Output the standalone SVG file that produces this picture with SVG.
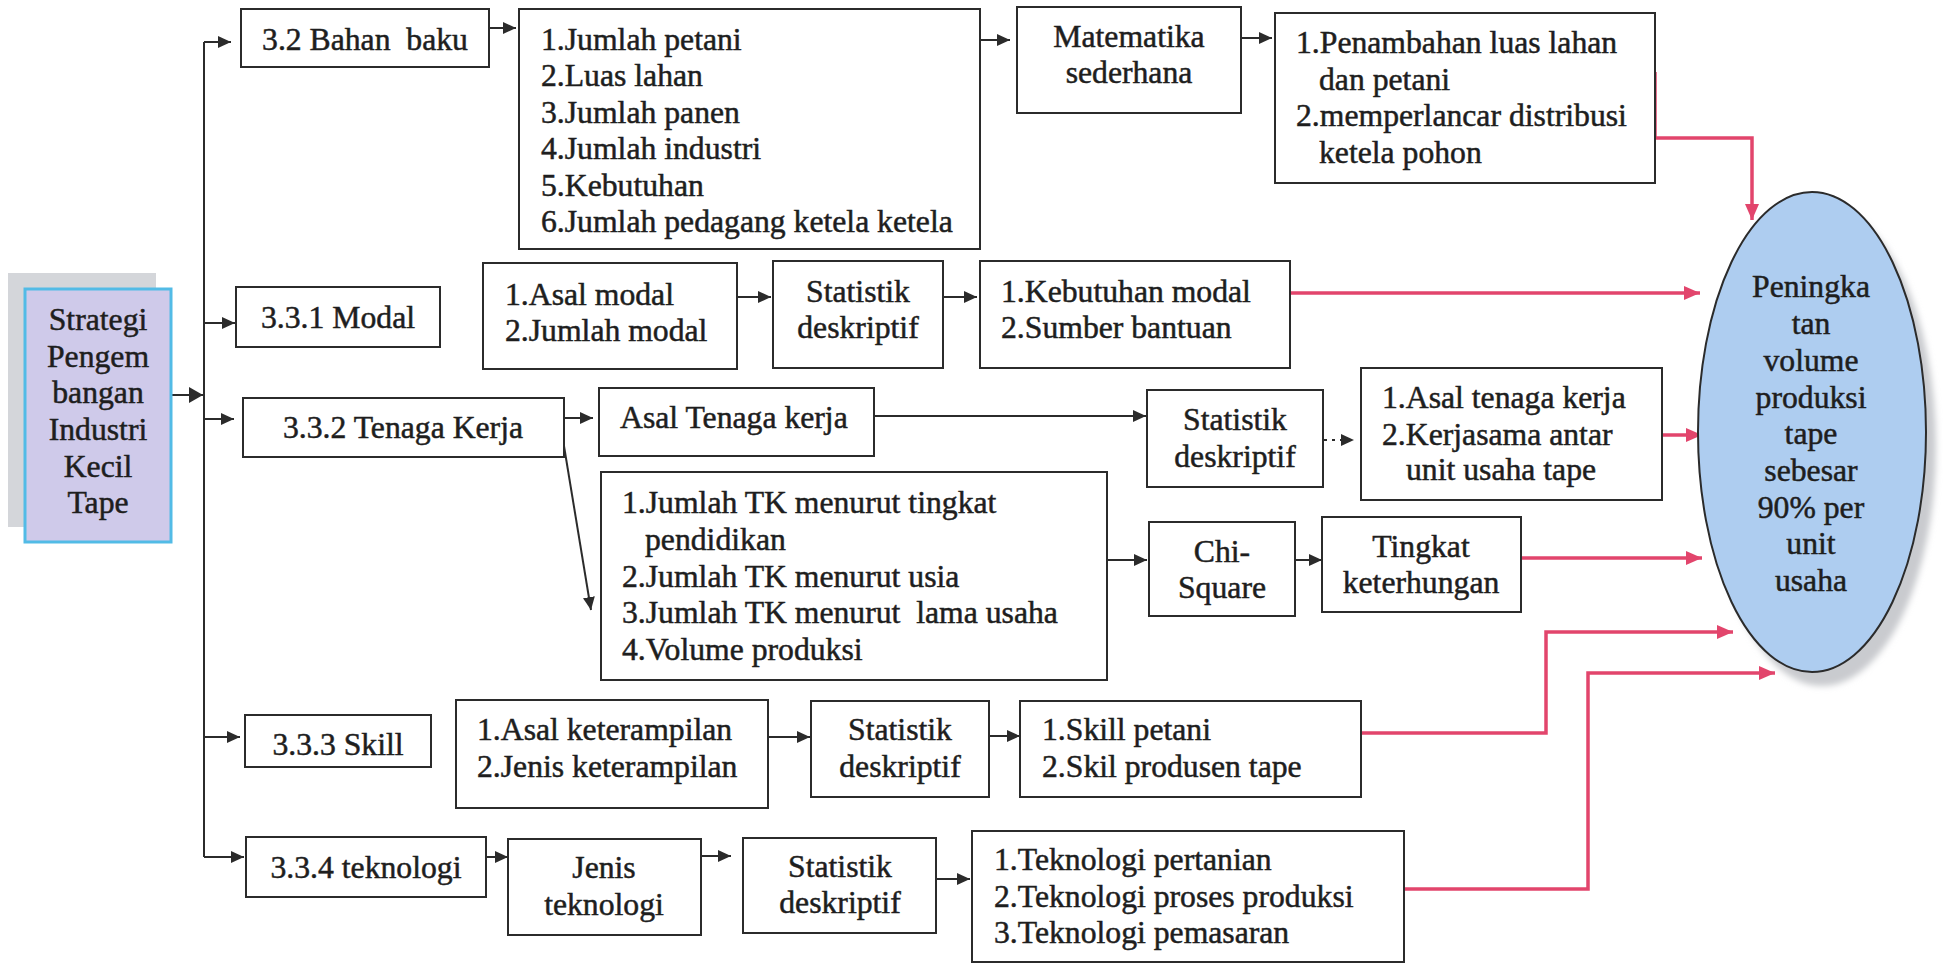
<svg xmlns="http://www.w3.org/2000/svg" width="1943" height="964" viewBox="0 0 1943 964">
  <style>
    .box { fill: #ffffff; stroke: #2b2b2b; stroke-width: 2; }
    text { font-family: 'Liberation Serif', 'DejaVu Serif', serif; font-size: 31.7px; fill: #1e1e1e; stroke: #1e1e1e; stroke-width: 0.5; white-space: pre; }
    .c { text-anchor: middle; }
    .ln { fill: none; stroke: #2b2b2b; stroke-width: 2; }
    .red { fill: none; stroke: #e2456c; stroke-width: 3.5; }
  </style>
  <defs>
    <marker id="ah" markerUnits="userSpaceOnUse" markerWidth="14" markerHeight="12" refX="13" refY="6" orient="auto">
      <path d="M0,0 L13,6 L0,12 z" fill="#2b2b2b"/>
    </marker>
    <marker id="ahb" markerUnits="userSpaceOnUse" markerWidth="15" markerHeight="16" refX="14" refY="8" orient="auto">
      <path d="M0,0 L14,8 L0,16 z" fill="#2b2b2b"/>
    </marker>
    <marker id="rh" markerUnits="userSpaceOnUse" markerWidth="16" markerHeight="14" refX="16" refY="7" orient="auto">
      <path d="M0,0 L16,7 L0,14 z" fill="#e2456c"/>
    </marker>
    <filter id="soft" x="-10%" y="-10%" width="120%" height="120%">
      <feGaussianBlur stdDeviation="3"/>
    </filter>
  </defs>

  <!-- connectors -->
  <g id="connectors">
    <path class="ln" d="M204,42 V857"/>
    <path class="ln" d="M171,395 H203" stroke-width="5" marker-end="url(#ahb)"/>
    <path class="ln" d="M204,42 H231" marker-end="url(#ah)"/>
    <path class="ln" d="M204,323 H235" marker-end="url(#ah)"/>
    <path class="ln" d="M204,419 H234" marker-end="url(#ah)"/>
    <path class="ln" d="M204,737 H240" marker-end="url(#ah)"/>
    <path class="ln" d="M204,857 H244" marker-end="url(#ah)"/>
    <path class="ln" d="M489,28 H516" marker-end="url(#ah)"/>
    <path class="ln" d="M980,40 H1010" marker-end="url(#ah)"/>
    <path class="ln" d="M1241,38 H1272" marker-end="url(#ah)"/>
    <path class="ln" d="M737,297 H771" marker-end="url(#ah)"/>
    <path class="ln" d="M943,297 H977" marker-end="url(#ah)"/>
    <path class="ln" d="M564,418 H593" marker-end="url(#ah)"/>
    <path class="ln" d="M563,440 L591,610" marker-end="url(#ah)"/>
    <path class="ln" d="M874,416 H1146" marker-end="url(#ah)"/>
    <path class="ln" d="M1324,440 H1354" stroke-dasharray="3 5" marker-end="url(#ah)"/>
    <path class="ln" d="M1107,560 H1147" marker-end="url(#ah)"/>
    <path class="ln" d="M1295,560 H1322" marker-end="url(#ah)"/>
    <path class="ln" d="M768,737 H810" marker-end="url(#ah)"/>
    <path class="ln" d="M989,736 H1020" marker-end="url(#ah)"/>
    <path class="ln" d="M486,857 H508" marker-end="url(#ah)"/>
    <path class="ln" d="M701,856 H731" marker-end="url(#ah)"/>
    <path class="ln" d="M936,879 H970" marker-end="url(#ah)"/>

    <path class="red" d="M1655,72 V138 H1752 V220" marker-end="url(#rh)"/>
    <path class="red" d="M1290,293 H1700" marker-end="url(#rh)"/>
    <path class="red" d="M1662,435 H1702" marker-end="url(#rh)"/>
    <path class="red" d="M1521,558 H1702" marker-end="url(#rh)"/>
    <path class="red" d="M1361,733 H1546 V632 H1733" marker-end="url(#rh)"/>
    <path class="red" d="M1404,889 H1588 V673 H1775" marker-end="url(#rh)"/>
  </g>

  <!-- root node -->
  <g id="strategi">
    <rect x="8" y="273" width="148" height="254" fill="#d4d6da"/>
    <rect x="25" y="289" width="146" height="253" fill="#cfcaea" stroke="#52bbe6" stroke-width="3"/>
    <text class="c" x="98" y="330">Strategi</text>
    <text class="c" x="98" y="367">Pengem</text>
    <text class="c" x="98" y="403">bangan</text>
    <text class="c" x="98" y="440">Industri</text>
    <text class="c" x="98" y="477">Kecil</text>
    <text class="c" x="98" y="513">Tape</text>
  </g>

  <!-- 3.2 raw material row -->
  <g id="bahan-baku">
    <rect class="box" x="241" y="9" width="248" height="58"/>
    <text class="c" x="365" y="50">3.2 Bahan  baku</text>
  </g>
  <g id="bahan-baku-data">
    <rect class="box" x="519" y="9" width="461" height="240"/>
    <text x="541" y="50">1.Jumlah petani</text>
    <text x="541" y="86">2.Luas lahan</text>
    <text x="541" y="123">3.Jumlah panen</text>
    <text x="541" y="159">4.Jumlah industri</text>
    <text x="541" y="196">5.Kebutuhan</text>
    <text x="541" y="232">6.Jumlah pedagang ketela ketela</text>
  </g>
  <g id="matematika">
    <rect class="box" x="1017" y="7" width="224" height="106"/>
    <text class="c" x="1129" y="47">Matematika</text>
    <text class="c" x="1129" y="83">sederhana</text>
  </g>
  <g id="bahan-baku-hasil">
    <rect class="box" x="1275" y="13" width="380" height="170"/>
    <text x="1296" y="53">1.Penambahan luas lahan</text>
    <text x="1319" y="90">dan petani</text>
    <text x="1296" y="126">2.memperlancar distribusi</text>
    <text x="1319" y="163">ketela pohon</text>
  </g>

  <!-- 3.3.1 capital row -->
  <g id="modal">
    <rect class="box" x="236" y="287" width="204" height="60"/>
    <text class="c" x="338" y="328">3.3.1 Modal</text>
  </g>
  <g id="modal-data">
    <rect class="box" x="483" y="263" width="254" height="106"/>
    <text x="505" y="305">1.Asal modal</text>
    <text x="505" y="341">2.Jumlah modal</text>
  </g>
  <g id="modal-statistik">
    <rect class="box" x="773" y="261" width="170" height="107"/>
    <text class="c" x="858" y="302">Statistik</text>
    <text class="c" x="858" y="338">deskriptif</text>
  </g>
  <g id="modal-hasil">
    <rect class="box" x="980" y="261" width="310" height="107"/>
    <text x="1001" y="302">1.Kebutuhan modal</text>
    <text x="1001" y="338">2.Sumber bantuan</text>
  </g>

  <!-- 3.3.2 labour row -->
  <g id="tenaga-kerja">
    <rect class="box" x="243" y="398" width="321" height="59"/>
    <text class="c" x="403" y="438">3.3.2 Tenaga Kerja</text>
  </g>
  <g id="asal-tenaga">
    <rect class="box" x="599" y="388" width="275" height="68"/>
    <text x="620" y="428">Asal Tenaga kerja</text>
  </g>
  <g id="tk-data">
    <rect class="box" x="601" y="472" width="506" height="208"/>
    <text x="622" y="513">1.Jumlah TK menurut tingkat</text>
    <text x="645" y="550">pendidikan</text>
    <text x="622" y="587">2.Jumlah TK menurut usia</text>
    <text x="622" y="623">3.Jumlah TK menurut  lama usaha</text>
    <text x="622" y="660">4.Volume produksi</text>
  </g>
  <g id="tk-statistik">
    <rect class="box" x="1147" y="390" width="176" height="97"/>
    <text class="c" x="1235" y="430">Statistik</text>
    <text class="c" x="1235" y="467">deskriptif</text>
  </g>
  <g id="tk-hasil">
    <rect class="box" x="1361" y="368" width="301" height="132"/>
    <text x="1382" y="408">1.Asal tenaga kerja</text>
    <text x="1382" y="445">2.Kerjasama antar</text>
    <text x="1406" y="480">unit usaha tape</text>
  </g>
  <g id="chi-square">
    <rect class="box" x="1149" y="522" width="146" height="94"/>
    <text class="c" x="1222" y="562">Chi-</text>
    <text class="c" x="1222" y="598">Square</text>
  </g>
  <g id="tingkat">
    <rect class="box" x="1322" y="517" width="199" height="95"/>
    <text class="c" x="1421" y="557">Tingkat</text>
    <text class="c" x="1421" y="593">keterhungan</text>
  </g>

  <!-- 3.3.3 skill row -->
  <g id="skill">
    <rect class="box" x="245" y="715" width="186" height="52"/>
    <text class="c" x="338" y="755">3.3.3 Skill</text>
  </g>
  <g id="skill-data">
    <rect class="box" x="456" y="700" width="312" height="108"/>
    <text x="477" y="740">1.Asal keterampilan</text>
    <text x="477" y="777">2.Jenis keterampilan</text>
  </g>
  <g id="skill-statistik">
    <rect class="box" x="811" y="701" width="178" height="96"/>
    <text class="c" x="900" y="740">Statistik</text>
    <text class="c" x="900" y="777">deskriptif</text>
  </g>
  <g id="skill-hasil">
    <rect class="box" x="1020" y="701" width="341" height="96"/>
    <text x="1042" y="740">1.Skill petani</text>
    <text x="1042" y="777">2.Skil produsen tape</text>
  </g>

  <!-- 3.3.4 technology row -->
  <g id="teknologi">
    <rect class="box" x="246" y="837" width="240" height="60"/>
    <text class="c" x="366" y="878">3.3.4 teknologi</text>
  </g>
  <g id="jenis-teknologi">
    <rect class="box" x="508" y="839" width="193" height="96"/>
    <text class="c" x="604" y="878">Jenis</text>
    <text class="c" x="604" y="915">teknologi</text>
  </g>
  <g id="teknologi-statistik">
    <rect class="box" x="743" y="838" width="193" height="95"/>
    <text class="c" x="840" y="877">Statistik</text>
    <text class="c" x="840" y="913">deskriptif</text>
  </g>
  <g id="teknologi-hasil">
    <rect class="box" x="972" y="831" width="432" height="131"/>
    <text x="994" y="870">1.Teknologi pertanian</text>
    <text x="994" y="907">2.Teknologi proses produksi</text>
    <text x="994" y="943">3.Teknologi pemasaran</text>
  </g>

  <!-- goal -->
  <g id="tujuan">
    <ellipse cx="1822" cy="446" rx="114" ry="240" fill="#c9cbcf" filter="url(#soft)"/>
    <ellipse cx="1812" cy="432" rx="114" ry="240" fill="#aecdf0" stroke="#2b2b2b" stroke-width="2"/>
    <text class="c" x="1811" y="297">Peningka</text>
    <text class="c" x="1811" y="334">tan</text>
    <text class="c" x="1811" y="371">volume</text>
    <text class="c" x="1811" y="408">produksi</text>
    <text class="c" x="1811" y="444">tape</text>
    <text class="c" x="1811" y="481">sebesar</text>
    <text class="c" x="1811" y="518">90% per</text>
    <text class="c" x="1811" y="554">unit</text>
    <text class="c" x="1811" y="591">usaha</text>
  </g>
</svg>
